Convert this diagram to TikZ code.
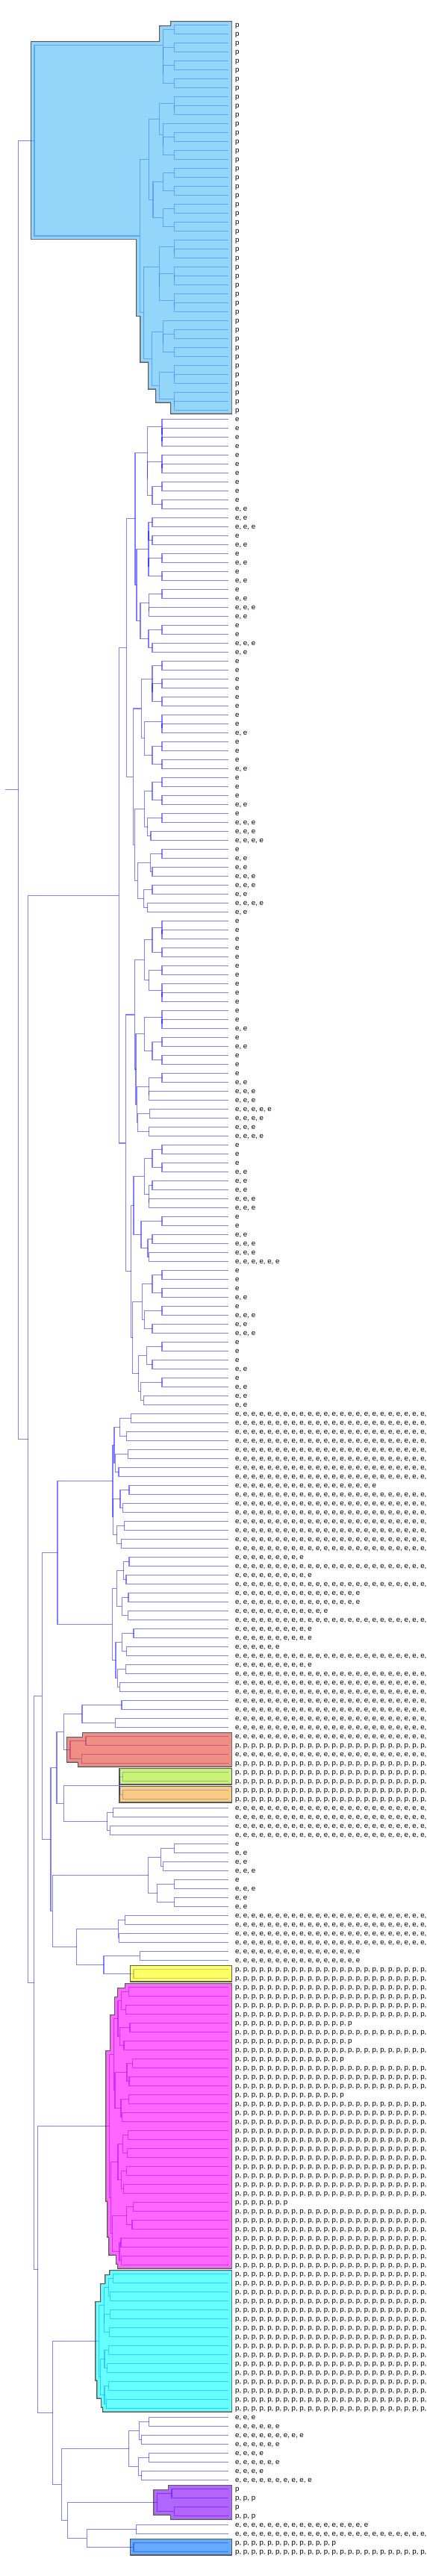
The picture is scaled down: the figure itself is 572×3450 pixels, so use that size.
\documentclass[tikz,border=0pt]{standalone}
\usepackage{fontspec}
\setmainfont{Liberation Sans}
\pgfdeclarelayer{ring}
\pgfdeclarelayer{blank}
\pgfdeclarelayer{tint}
\pgfsetlayers{ring,blank,main,tint}

\definecolor{skyfill}{RGB}{75,188,247}
\definecolor{salmonfill}{RGB}{233,67,50}
\definecolor{limefill}{RGB}{170,233,33}
\definecolor{orangefill}{RGB}{243,170,50}
\definecolor{yellowfill}{RGB}{255,255,0}
\definecolor{magentafill}{RGB}{255,0,255}
\definecolor{cyanfill}{RGB}{0,255,255}
\definecolor{violetfill}{RGB}{127,0,255}
\definecolor{azurefill}{RGB}{0,113,255}

\newcounter{lf}
\newcounter{nd}
\gdef\stk{@}
\gdef\clu{}
\def\popit#1#2\relax{\gdef\popped{#1}\gdef\stk{#2}}
\newcommand\pop[1]{\expandafter\popit\stk\relax\let#1\popped}
\newcommand\push[1]{\xdef\stk{{#1}\stk}}
\newcommand\reps[2]{#2\ifnum#1>1, \expandafter\reps\expandafter{\the\numexpr#1-1\relax}{#2}\fi}

\newcommand\putleaf[1]{\stepcounter{lf}%
  \pgfmathsetmacro\yy{33.3+12*(\thelf-1)}%
  \expandafter\xdef\csname y@l\thelf\endcsname{\yy}%
  \coordinate (l\thelf) at (306,\yy);
  \node[leaf label] (t\thelf) at (315,\yy+3) {#1};
  \push{l\thelf}}
\newcommand\ee[1]{\putleaf{\reps{#1}{e}}}
\newcommand\pp[1]{\putleaf{\reps{#1}{p}}}

\newcommand\jn[1]{\pop\brB\pop\brA\stepcounter{nd}%
  \edef\ya{\csname y@\brA\endcsname}\edef\yb{\csname y@\brB\endcsname}%
  \pgfmathsetmacro\yy{(\ya+\yb)/2}%
  \expandafter\xdef\csname y@n\thend\endcsname{\yy}%
  \coordinate (n\thend) at (#1,\yy);
  \draw[branch line] (\brA) -| (n\thend) |- (\brB);
  \ifx\clu\empty\else
    \pgfmathsetmacro\xl{#1-4}\pgfmathsetmacro\yt{\ya-4}\pgfmathsetmacro\yu{\yb+4}%
    \expandafter\xdef\csname P@\clu\endcsname{\csname P@\clu\endcsname (\xl,\yt) rectangle (310,\yu)}%
  \fi
  \push{n\thend}}

\newcommand\clstart[1]{\gdef\clu{#1}\expandafter\gdef\csname P@#1\endcsname{}}
\newcommand\clend{\gdef\clu{}}
\newcommand\clpaint[2]{%
  \begin{pgfonlayer}{ring}\edef\tmp{\noexpand\draw[cluster ring] \csname P@#1\endcsname;}\tmp\end{pgfonlayer}%
  \begin{pgfonlayer}{blank}\edef\tmp{\noexpand\fill[white] \csname P@#1\endcsname;}\tmp\end{pgfonlayer}%
  \begin{pgfonlayer}{tint}\edef\tmp{\noexpand\fill[#2, fill opacity=.6] \csname P@#1\endcsname;}\tmp\end{pgfonlayer}}

\begin{document}
\begin{tikzpicture}[x=1pt, y=-1pt,
    branch line/.style={draw=blue, draw opacity=.5, line width=1.3pt},
    leaf label/.style={anchor=base west, inner sep=0pt, font=\fontsize{9.7}{11}\selectfont},
    cluster ring/.style={draw=black!65, line width=2.6pt}]
  \useasboundingbox (0,0) rectangle (572,3450);
  \begin{pgfonlayer}{ring}
    \fill[white] (0,0) rectangle (572,3450);
  \end{pgfonlayer}

  \clstart{sky}
  \pp1\pp1\jn{233.3}\pp1\pp1\jn{233.3}\pp1\pp1\jn{233.3}\pp1\pp1\jn{233.3}\jn{218.3}\jn{218.3}\jn{218.3}
  \pp1\pp1\pp1\jn{233.3}\jn{233.3}\pp1\pp1\pp1\jn{233.3}\pp1\pp1\jn{233.3}\jn{218.3}\jn{218.3}\jn{213.3}
  \pp1\pp1\jn{233.3}\pp1\pp1\jn{233.3}\jn{218.3}\pp1\pp1\jn{233.3}\pp1\pp1\jn{233.3}\jn{218.3}\jn{205}
  \jn{199.3}
  \pp1\pp1\pp1\jn{233.3}\jn{233.3}\pp1\pp1\pp1\jn{233.3}\jn{233.3}\pp1\pp1\pp1\jn{233.3}\jn{233.3}\jn{213.3}\jn{213.3}
  \pp1\pp1\pp1\jn{233.3}\pp1\pp1\jn{233.3}\jn{218.3}\jn{218.3}
  \pp1\pp1\pp1\jn{233.3}\jn{233.3}\pp1\pp1\pp1\jn{233.3}\jn{233.3}\jn{213.3}\jn{203.3}\jn{192.7}
  \jn{187.3}\jn{46}
  \clend

  \ee1\ee1\ee1\ee1\jn{217}\jn{217}\jn{217}\ee1\ee1\ee1\jn{217}\jn{217}\ee1\ee1\jn{217}\ee1\ee2\jn{217}\jn{204}\jn{197.7}\jn{197.7}
  \ee2\ee3\jn{204}\ee1\ee2\jn{204}\jn{199}\ee1\ee2\jn{217}\ee1\ee2\jn{217}\jn{199}\jn{199}
  \ee1\ee2\jn{217}\ee3\ee2\jn{199.7}\jn{199.7}\ee1\ee1\jn{217}\ee3\ee2\jn{204}\jn{199}\jn{188}\jn{183}
  \jn{181}
  \ee1\ee1\jn{217}\ee1\ee1\jn{217}\ee1\ee1\jn{217}\jn{204}\jn{204}
  \ee1\ee1\ee2\jn{217}\jn{217}\ee1\ee1\jn{217}\ee1\ee2\jn{217}\jn{204}\jn{193.3}\jn{189.3}
  \ee1\ee1\jn{217}\ee1\ee2\jn{217}\jn{204}\ee1\ee3\jn{217}\ee3\ee4\jn{202}\jn{197.7}\jn{193.3}
  \ee1\ee2\jn{217}\ee2\ee3\jn{204}\jn{201.3}\ee3\ee2\jn{204}\ee4\ee2\jn{197.7}\jn{192.7}\jn{184.3}\jn{180.3}
  \jn{178.3}\jn{169.3}
  \ee1\ee1\ee1\jn{217}\jn{217}\ee1\ee1\jn{217}\jn{204}\ee1\ee1\jn{217}\ee1\ee1\ee1\jn{217}\jn{217}\jn{199.7}\jn{193.3}
  \ee1\ee1\ee2\jn{217}\jn{217}\ee1\ee2\jn{217}\ee1\ee1\jn{217}\jn{204}\jn{193.3}
  \ee1\ee2\jn{217}\ee3\ee3\jn{199.7}\jn{199.7}\ee5\ee4\jn{200.3}\ee3\ee4\jn{199.7}\jn{184.3}\jn{183.3}
  \jn{182}\jn{180.3}
  \ee1\ee1\jn{217}\ee1\ee2\jn{217}\jn{204}\ee2\ee2\jn{204}\ee3\ee3\jn{199.7}\jn{199.7}\jn{193.3}
  \ee1\ee1\jn{217}\ee2\ee3\jn{204}\ee3\ee6\jn{199.7}\jn{198}\jn{189}\jn{179}
  \ee1\ee1\jn{217}\ee1\ee2\jn{217}\jn{204}\ee1\ee3\jn{217}\ee2\ee3\jn{204}\jn{193.3}\jn{190.3}
  \ee1\ee1\jn{217}\ee1\ee2\jn{204}\jn{196.3}\ee1\ee2\jn{217}\ee2\ee2\jn{192.3}\jn{188.3}\jn{185.7}
  \jn{177.7}\jn{175.7}
  \jn{168.3}\jn{159.3}

  \ee{25}\ee{25}\jn{175.7}\ee{25}\ee{25}\jn{169.3}\jn{160.7}\ee{25}\ee{25}\jn{171.3}\ee{25}\ee{25}\jn{159}\jn{154.3}\jn{153}
  \ee{18}\ee{25}\jn{173}\ee{25}\ee{25}\jn{164.3}\jn{161}\ee{25}\ee{25}\jn{166.7}\ee{25}\ee{25}\jn{162.7}\jn{156.7}\jn{151.7}
  \jn{151}
  \ee9\ee{25}\jn{173}\ee{10}\ee{25}\jn{169}\jn{165.7}\ee{16}\ee{16}\jn{172}\ee{12}\ee{25}\jn{171.3}\jn{163.3}\jn{156.3}
  \ee{10}\ee{10}\jn{179}\ee6\ee{25}\jn{169.3}\jn{163.3}\ee{10}\ee{25}\jn{168.3}\ee{25}\ee{25}\jn{160.3}\jn{157.3}\jn{155}
  \jn{150.3}\jn{77}
  \ee{25}\ee{25}\jn{163}\ee{25}\ee{25}\jn{154.3}\jn{110}
  \clstart{salmon}\ee{25}\pp{25}\jn{115}\ee{25}\pp{25}\jn{109.3}\jn{94}\clend
  \jn{85.3}
  \clstart{lime}\pp{25}\pp{25}\jn{164.7}\clend
  \clstart{orange}\pp{25}\pp{25}\jn{164.7}\clend
  \jn{160.3}\ee{25}\ee{25}\jn{151.7}\ee{25}\ee{25}\jn{147.3}\jn{143.7}\jn{85.3}
  \jn{76}
  \ee1\ee2\jn{233.3}\ee2\ee3\jn{218.3}\jn{215.3}\ee1\ee3\jn{233.3}\ee2\ee2\jn{233.3}\jn{210.7}\jn{198.7}
  \ee{25}\ee{25}\jn{167.7}\ee{25}\ee{25}\jn{159.3}\jn{158.3}\ee{16}\ee{16}\jn{187.3}
  \clstart{yellow}\pp{25}\pp{25}\jn{179}\clend
  \jn{139}\jn{102.7}
  \jn{70.3}\jn{68}
  \jn{56.3}

  \clstart{magenta}
  \pp{25}\pp{25}\jn{172.3}\pp{25}\pp{25}\jn{168.3}\jn{162.3}\pp{15}\pp{25}\jn{174}\pp{15}\pp{25}\jn{166}\jn{160.7}\jn{158}
  \pp{14}\pp{25}\jn{177.7}\pp{25}\pp{25}\jn{173}\jn{170}\pp{14}\pp{25}\jn{172.7}\pp{25}\pp{25}\jn{163.3}\jn{162}\jn{154}\jn{152.3}
  \pp{25}\pp{25}\jn{171.3}\pp{25}\pp{25}\jn{170.3}\jn{164.3}\pp{25}\pp{25}\jn{169.7}\pp{25}\pp{25}\jn{165.7}\jn{162.3}\jn{158}
  \pp7\pp{25}\jn{178.7}\pp{25}\pp{25}\jn{177}\jn{169.7}\pp{25}\pp{25}\jn{162}\pp{25}\pp{25}\jn{162.3}\jn{160}\jn{150.7}\jn{148.5}
  \jn{146.5}
  \clend
  \clstart{cyan}
  \pp{25}\pp{25}\jn{151.7}\pp{25}\pp{25}\jn{147.3}\jn{145.7}\pp{25}\pp{25}\jn{147.3}\pp{25}\pp{25}\jn{146.3}\jn{139.3}\jn{139.3}
  \pp{25}\pp{25}\jn{145.3}\pp{25}\pp{25}\jn{143.7}\jn{140}\pp{25}\pp{25}\jn{145.7}\pp{25}\pp{25}\jn{142.3}\jn{140}\jn{134.5}
  \jn{132.5}
  \clend
  \ee3\ee6\jn{199.7}\ee9\ee6\jn{189.7}\jn{186.3}\ee4\ee6\jn{199.7}\ee4\ee{10}\jn{189.7}\jn{185.3}\jn{172.7}
  \clstart{violet}\pp1\pp3\jn{230}\pp1\pp3\jn{233.3}\jn{210.7}\clend
  \ee{17}\ee{25}\jn{182.7}
  \clstart{azure}\pp{13}\pp{25}\jn{179}\clend
  \jn{116.3}\jn{90.3}\jn{82.3}
  \jn{70.7}\jn{50.7}

  \jn{45.7}\jn{37.7}\jn{24.5}

  \pop\brA
  \edef\ya{\csname y@\brA\endcsname}
  \coordinate (stub) at (7,\ya);
  \draw[branch line] (stub) -- (\brA);

  \clpaint{sky}{skyfill}
  \clpaint{salmon}{salmonfill}
  \clpaint{lime}{limefill}
  \clpaint{orange}{orangefill}
  \clpaint{yellow}{yellowfill}
  \clpaint{magenta}{magentafill}
  \clpaint{cyan}{cyanfill}
  \clpaint{violet}{violetfill}
  \clpaint{azure}{azurefill}
\end{tikzpicture}
\end{document}
